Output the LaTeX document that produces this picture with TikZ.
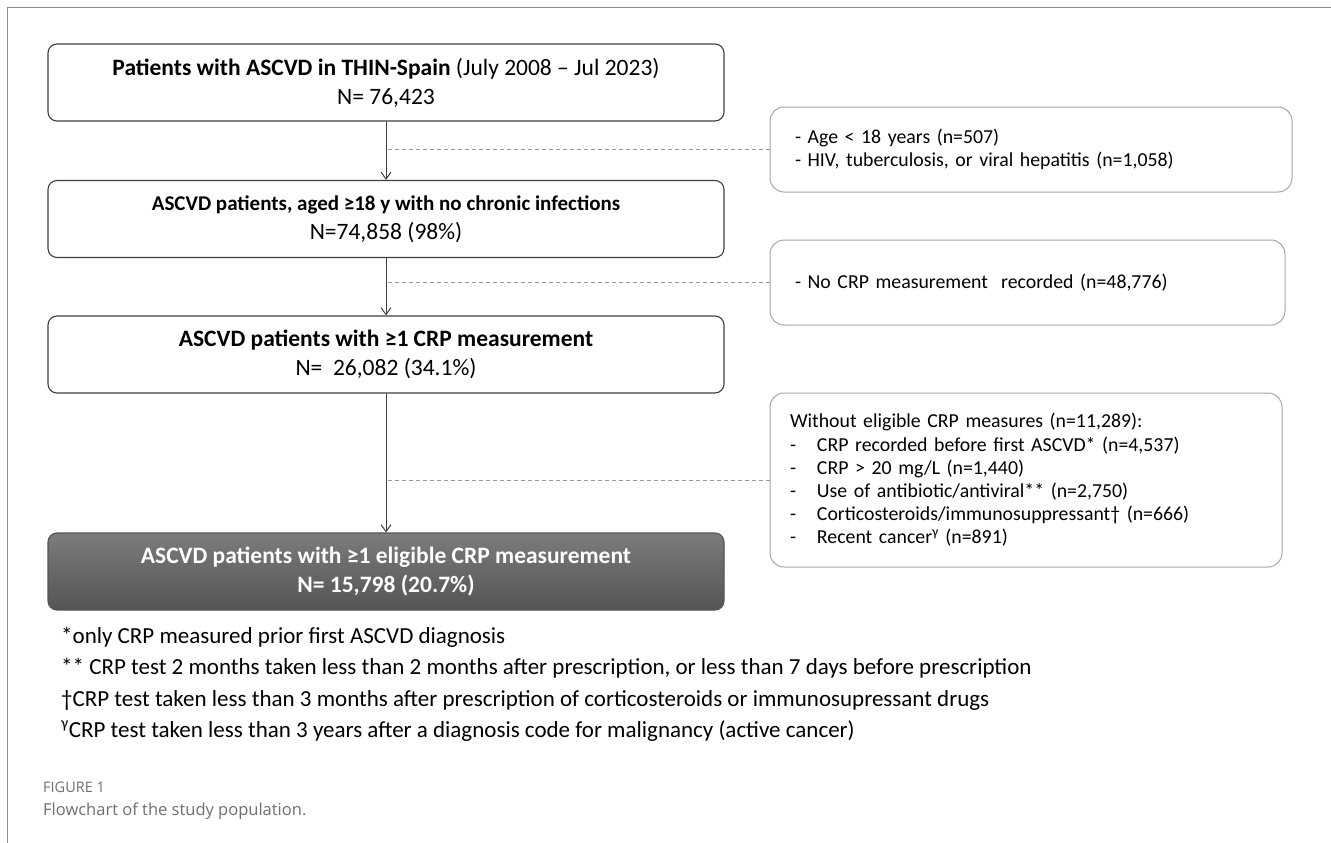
\documentclass[tikz,border=0pt]{standalone}
\usepackage{fontspec}
\setmainfont{Carlito}
\newfontfamily\capfont{Open Sans}
\usetikzlibrary{arrows.meta,calc}
\definecolor{boxline}{HTML}{404040}
\definecolor{sideline}{HTML}{A6A6A6}
\definecolor{dashcol}{HTML}{9A9A9A}
\definecolor{gtop}{HTML}{7B7B7B}
\definecolor{gbot}{HTML}{555555}
\definecolor{capgray}{HTML}{6F6F6F}
\definecolor{framecol}{HTML}{8C8C8C}
\newcommand{\dashitem}[1]{\makebox[27pt][l]{-}#1}
\begin{document}
\begin{tikzpicture}[x=1pt,y=-1pt,
 mainbox/.style={draw=boxline, line width=1.1pt, rounded corners=9pt, minimum width=676pt, minimum height=77pt, align=center, font=\fontsize{23.5}{29}\selectfont, inner sep=0pt},
 sidebox/.style={draw=sideline, line width=1pt, rounded corners=14pt, align=left, font=\fontsize{19.8}{23.2}\selectfont, inner ysep=0pt},
 flow/.style={draw=boxline, line width=1pt, -{Straight Barb[length=7pt,width=10pt]}},
 excl/.style={draw=dashcol, line width=1pt, dash pattern=on 4pt off 3pt},
 foot/.style={anchor=west, font=\fontsize{23}{26}\selectfont, inner sep=0pt}]
\useasboundingbox (0,0) rectangle (1331,843);
\fill[white] (0,0) rectangle (1331,843);
\draw[framecol, line width=1pt] (7,843) -- (7,8) -- (1331,8);

\node[mainbox] (b1) at (386,82.5) {\textbf{Patients with ASCVD in THIN-Spain} (July 2008 -- Jul 2023)\\N= 76,423};
\node[mainbox] (b2) at (386,219) {{\fontsize{21}{29}\selectfont\textbf{ASCVD patients, aged ≥18 y with no chronic infections}}\\N=74,858 (98\%)};
\node[mainbox] (b3) at (386,354.5) {\textbf{ASCVD patients with ≥1 CRP measurement}\\N=\ \ 26,082 (34.1\%)};
\node[mainbox, draw=gbot, top color=gtop, bottom color=gbot, text=white] (b4) at (386,571.5) {\textbf{ASCVD patients with ≥1 eligible CRP measurement}\\\textbf{N= 15,798 (20.7\%)}};

\node[sidebox, minimum width=522pt, minimum height=85pt, text width=472pt, inner xsep=25pt] (s1) at (1031,149.5) {- Age < 18 years (n=507)\\- HIV, tuberculosis, or viral hepatitis (n=1,058)};
\node[sidebox, minimum width=515pt, minimum height=85pt, text width=465pt, inner xsep=25pt] (s2) at (1027.5,282.5) {- No CRP measurement\ \ recorded (n=48,776)};
\node[sidebox, minimum width=512pt, minimum height=174pt, text width=472pt, inner xsep=20pt] (s3) at (1026,480) {Without eligible CRP measures (n=11,289):\\
\dashitem{CRP recorded before first ASCVD* (n=4,537)}\\
\dashitem{CRP > 20 mg/L (n=1,440)}\\
\dashitem{Use of antibiotic/antiviral** (n=2,750)}\\
\dashitem{Corticosteroids/immunosuppressant† (n=666)}\\
\dashitem{Recent cancer\textsuperscript{γ} (n=891)}};

\draw[flow] (b1) -- (b2);
\draw[flow] (b2) -- (b3);
\draw[flow] (b3) -- (b4);
\draw[excl] (s1.west) -- (s1.west -| b1.south);
\draw[excl] (s2.west) -- (s2.west -| b2.south);
\draw[excl] (s3.west) -- (s3.west -| b3.south);

\node[foot] (f1) at (61,637) {*only CRP measured prior first ASCVD diagnosis};
\node[foot] (f2) at (61,668.5) {** CRP test 2 months taken less than 2 months after prescription, or less than 7 days before prescription};
\node[foot] (f3) at (61,700) {†CRP test taken less than 3 months after prescription of corticosteroids or immunosupressant drugs};
\node[foot] (f4) at (61,731.5) {\textsuperscript{γ}CRP test taken less than 3 years after a diagnosis code for malignancy (active cancer)};

\node[anchor=west, inner sep=0pt, text=capgray, font=\capfont\fontsize{14.5}{16}\selectfont] (cap1) at (43,787) {FIGURE 1};
\node[anchor=west, inner sep=0pt, text=capgray, font=\capfont\fontsize{16.5}{19}\selectfont] (cap2) at (43,811) {Flowchart of the study population.};
\end{tikzpicture}
\end{document}
